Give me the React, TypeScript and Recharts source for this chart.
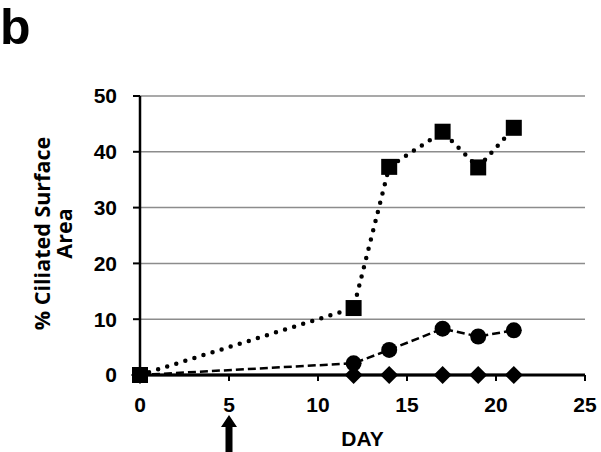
import React from "react";
import { LineChart, Line, XAxis, YAxis, CartesianGrid } from "recharts";

const days = [0, 12, 14, 17, 19, 21];
const squareValues = [0, 12, 37.3, 43.6, 37.2, 44.3];
const circleValues = [0, 2.1, 4.5, 8.3, 6.9, 8.0];
const diamondValues = [0, 0, 0, 0, 0, 0];
const xTicks = [0, 5, 10, 15, 20, 25];
const yTicks = [0, 10, 20, 30, 40, 50];
const arrowDay = 5;

const data = days.map((d, i) => ({
  day: d,
  square: squareValues[i],
  circle: circleValues[i],
  diamond: diamondValues[i],
}));

const tickFont = "'Liberation Sans', Arial, sans-serif";

function SquareDot(props: any) {
  const { cx, cy } = props;
  if (cx == null || cy == null) return null;
  return <rect x={cx - 8} y={cy - 8} width={16} height={16} fill="#000" />;
}

function CircleDot(props: any) {
  const { cx, cy } = props;
  if (cx == null || cy == null) return null;
  return <circle cx={cx} cy={cy} r={8} fill="#000" />;
}

function DiamondDot(props: any) {
  const { cx, cy } = props;
  if (cx == null || cy == null) return null;
  return (
    <polygon
      points={`${cx},${cy - 9} ${cx + 9},${cy} ${cx},${cy + 9} ${cx - 9},${cy}`}
      fill="#000"
    />
  );
}

function XTick(props: any) {
  const { x, y, payload } = props;
  return (
    <g>
      <text
        x={x}
        y={y}
        dy="0.71em"
        textAnchor="middle"
        fontFamily={tickFont}
        fontWeight="bold"
        fontSize={21}
        fill="#000"
      >
        {payload.value}
      </text>
      {payload.value === arrowDay && (
        <polygon
          points={`${x},${y + 18} ${x + 8},${y + 30} ${x + 3.5},${y + 30} ${x + 3.5},${y + 58} ${x - 3.5},${y + 58} ${x - 3.5},${y + 30} ${x - 8},${y + 30}`}
          fill="#000"
        />
      )}
    </g>
  );
}

function YLabel(props: any) {
  const { viewBox } = props;
  const cy = viewBox.y + viewBox.height / 2 - 2;
  const f = "'Open Sans', sans-serif";
  return (
    <g>
      <text
        x={42}
        y={cy}
        dy="0.35em"
        textAnchor="middle"
        transform={`rotate(-90, 42, ${cy})`}
        fontFamily={f}
        fontWeight="bold"
        fontSize={21.5}
        fill="#000"
      >
        % Ciliated Surface
      </text>
      <text
        x={64}
        y={cy}
        dy="0.35em"
        textAnchor="middle"
        transform={`rotate(-90, 64, ${cy})`}
        fontFamily={f}
        fontWeight="bold"
        fontSize={21.5}
        fill="#000"
      >
        Area
      </text>
    </g>
  );
}

function XLabel(props: any) {
  const { viewBox } = props;
  return (
    <text
      x={viewBox.x + viewBox.width / 2}
      y={viewBox.y + 71}
      textAnchor="middle"
      fontFamily={tickFont}
      fontWeight="bold"
      fontSize={21}
      fill="#000"
    >
      DAY
    </text>
  );
}

export default function App() {
  return (
    <div style={{ position: "absolute", left: 0, top: 0, width: 601, height: 452, background: "#fff" }}>
      <div
        style={{
          position: "absolute",
          left: 0,
          top: 2,
          fontFamily: tickFont,
          fontWeight: "bold",
          fontSize: 50,
          lineHeight: "50px",
        }}
      >
        b
      </div>
      <LineChart
        width={601}
        height={452}
        data={data}
        margin={{ top: 96, right: 16, bottom: 0, left: 0 }}
      >
        <CartesianGrid vertical={false} stroke="#8c8c8c" strokeWidth={1.5} />
        <XAxis
          dataKey="day"
          type="number"
          domain={[0, 25]}
          ticks={xTicks}
          height={77}
          tickSize={6}
          tickMargin={16}
          axisLine={{ stroke: "#000", strokeWidth: 3 }}
          tickLine={{ stroke: "#000", strokeWidth: 2 }}
          tick={<XTick />}
          label={<XLabel />}
        />
        <YAxis
          type="number"
          domain={[0, 50]}
          ticks={yTicks}
          width={140}
          tickSize={7}
          tickMargin={16}
          axisLine={{ stroke: "#000", strokeWidth: 2.5 }}
          tickLine={{ stroke: "#000", strokeWidth: 2 }}
          tick={{ fontFamily: tickFont, fontWeight: "bold", fontSize: 21, fill: "#000" }}
          label={<YLabel />}
        />
        <Line
          dataKey="diamond"
          stroke="#000"
          strokeWidth={2.5}
          dot={<DiamondDot />}
          isAnimationActive={false}
        />
        <Line
          dataKey="circle"
          stroke="#000"
          strokeWidth={2.5}
          strokeDasharray="8 4"
          dot={<CircleDot />}
          isAnimationActive={false}
        />
        <Line
          dataKey="square"
          stroke="#000"
          strokeWidth={4.5}
          strokeLinecap="round"
          strokeDasharray="0 9.5"
          dot={<SquareDot />}
          isAnimationActive={false}
        />
      </LineChart>
    </div>
  );
}
